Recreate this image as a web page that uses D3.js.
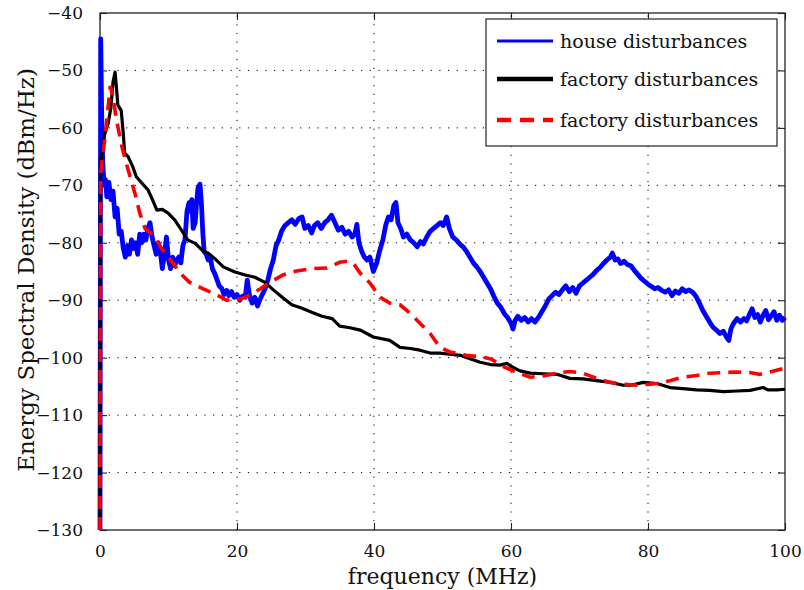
<!DOCTYPE html>
<html>
<head>
  <meta charset="utf-8">
  <title>Energy spectral density</title>
  <script src="https://d3js.org/d3.v7.min.js"></script>
  <style>
    body { margin: 0; background: #fff; }
    svg text { font-family: "DejaVu Serif", serif; fill: #111; }
    .grid line { stroke: #000; stroke-width: 1; stroke-dasharray: 1.2,7.5; }
  </style>
</head>
<body>
<svg id="chart" width="804" height="590"></svg>
<script>
// frequency (MHz), energy spectral density (dBm/Hz)
var house = [
  [0,-130],[0.1,-44.5],[0.25,-58],[0.4,-66],[0.6,-70],[0.8,-69],[1.0,-72],[1.3,-69.5],[1.6,-72.5],[1.9,-71],
  [2.2,-75.5],[2.5,-74],[2.8,-78.5],[3.1,-78],[3.4,-81],[3.7,-82.5],[4.0,-80.5],[4.3,-82],[4.6,-79.5],[4.9,-81],
  [5.2,-80],[5.5,-82],[5.8,-78.5],[6.1,-80],[6.4,-78.5],[6.7,-79.5],[7.0,-77.5],[7.3,-76.5],[7.6,-79],[7.9,-80.5],
  [8.2,-82],[8.5,-80],[8.8,-81.5],[9.1,-84.5],[9.4,-82],[9.7,-79],[10.0,-83],[10.3,-84.5],[10.6,-82.5],[10.9,-84],
  [11.2,-83],[11.5,-82.5],[11.8,-83.5],[12.1,-80.5],[12.4,-79.5],[12.7,-74.5],[13.0,-73],[13.2,-74.5],[13.4,-72.5],[13.6,-77.5],
  [13.9,-76.5],[14.1,-73],[14.3,-70.5],[14.6,-69.8],[14.8,-73],[15.0,-78],[15.2,-81.5],[15.5,-82],[15.8,-83],[16.1,-82.5],
  [16.4,-84.5],[16.8,-85.5],[17.1,-86.5],[17.4,-87.5],[17.8,-88],[18.1,-89],[18.5,-88.3],[18.8,-89.2],[19.2,-88.5],[19.6,-89.5],
  [20.0,-89],[20.4,-90],[20.8,-89.3],[21.2,-89.5],[21.5,-86.5],[21.8,-89],[22.2,-90.5],[22.6,-89.5],[23.0,-91],[23.3,-90],
  [23.7,-89],[24.1,-88],[24.5,-86.5],[24.9,-84.5],[25.3,-83],[25.7,-80.5],[26.1,-79.5],[26.5,-78],[27.0,-77],[27.5,-76.5],
  [28.0,-76],[28.5,-76.8],[29.0,-75.8],[29.5,-75.5],[29.9,-77.5],[30.4,-77],[30.9,-78.3],[31.3,-77],[31.8,-76.5],[32.3,-77.5],
  [32.8,-76.5],[33.3,-76],[33.8,-75.2],[34.3,-76.5],[34.8,-77.8],[35.3,-77.3],[35.8,-78.5],[36.3,-78],[36.8,-79],[37.2,-78.5],
  [37.5,-76.8],[37.8,-80],[38.2,-81.5],[38.6,-82.5],[39.0,-83],[39.4,-82.5],[39.9,-85],[40.4,-83.5],[40.8,-81.5],[41.3,-79.5],
  [41.7,-77],[42.1,-75.5],[42.5,-76],[42.9,-73.5],[43.2,-73],[43.5,-76.5],[43.9,-77.5],[44.3,-79],[44.8,-78.5],[45.3,-79.5],
  [45.8,-80],[46.3,-80.7],[46.8,-79.8],[47.2,-80.2],[47.7,-79],[48.2,-78],[48.7,-77.5],[49.2,-77],[49.7,-76.5],[50.1,-77],
  [50.6,-75.5],[51.0,-77.5],[51.5,-79],[52.0,-79.5],[52.5,-80.2],[53.0,-80.7],[53.5,-81.5],[54.0,-82.5],[54.5,-83.5],[55.0,-84.2],
  [55.5,-85],[56.0,-86],[56.5,-87],[57.0,-88],[57.5,-89.3],[58.0,-90.5],[58.5,-91.2],[59.0,-92.3],[59.5,-93],[60.0,-94],
  [60.3,-95],[60.6,-93.5],[61.0,-92.8],[61.5,-93.5],[62.0,-93],[62.5,-93.8],[63.0,-93.2],[63.5,-93.8],[64.0,-93],[64.5,-92],
  [65.0,-91],[65.5,-89.8],[66.0,-89.2],[66.5,-88.6],[67.0,-89],[67.5,-88.2],[68.0,-87.5],[68.5,-88.5],[69.0,-87.8],[69.5,-88.8],
  [70.0,-87.5],[70.5,-87],[71.0,-86.5],[71.5,-86],[72.0,-85.5],[72.5,-84.8],[73.0,-84.3],[73.5,-83.6],[74.0,-83],[74.5,-82.5],
  [74.8,-81.8],[75.2,-83],[75.6,-82.8],[76.0,-83.6],[76.5,-83.2],[77.0,-83.8],[77.5,-84],[78.0,-84.8],[78.5,-85.5],[79.0,-86.2],
  [79.5,-86.7],[80.0,-87.2],[80.5,-87.6],[81.0,-88],[81.5,-87.8],[82.0,-88.3],[82.5,-88.6],[83.0,-88.2],[83.5,-89.2],[84.0,-88.4],
  [84.5,-88.8],[85.0,-88],[85.5,-88.5],[86.0,-88.2],[86.5,-88.6],[87.0,-89.3],[87.5,-90.5],[88.0,-91.8],[88.5,-92.8],[89.0,-93.8],
  [89.5,-94.7],[90.0,-95.2],[90.5,-95.8],[91.0,-95.4],[91.5,-96.5],[91.8,-97],[92.1,-95],[92.5,-94],[93.0,-93.2],[93.5,-93.8],
  [94.0,-93.2],[94.4,-93.6],[94.8,-92.5],[95.2,-91.5],[95.6,-93],[96.0,-92.5],[96.4,-93.8],[96.8,-92.6],[97.2,-91.8],[97.6,-93.4],
  [98.0,-92.7],[98.4,-92],[98.8,-93.5],[99.2,-92.6],[99.6,-93.5],[100,-93]
];

var factory = [
  [0,-130],[0.05,-66],[0.3,-64.5],[0.7,-61],[1.2,-59.2],[1.6,-56.4],[1.9,-52],[2.2,-50.3],[2.4,-53],[2.6,-56],
  [3.1,-57],[3.4,-61],[3.6,-64.4],[4.1,-65],[4.8,-66.8],[5.3,-68.5],[6.1,-69.6],[7.0,-70.8],[7.7,-72.6],[8.3,-74.3],
  [9.1,-74.2],[9.9,-74.8],[10.9,-76],[11.9,-77.8],[12.8,-79.5],[13.9,-80.1],[14.9,-81.3],[15.8,-81.8],[16.8,-82.8],[18.0,-84.2],
  [19.7,-85.1],[21.2,-85.6],[22.6,-86],[24.1,-86.9],[25.3,-88.2],[26.6,-89.5],[28.0,-90.8],[29.5,-91.4],[30.9,-92.1],[32.4,-92.8],
  [33.9,-93.2],[35.0,-94.5],[36.5,-94.8],[38.0,-95.2],[39.9,-96.4],[42.3,-97],[43.8,-98.2],[45.3,-98.4],[46.7,-98.7],[48.2,-99.2],
  [49.6,-99.2],[51.1,-99.4],[52.6,-99.6],[54.0,-100.2],[55.5,-100.8],[57.0,-101.2],[58.4,-101.3],[59.4,-101],[60.0,-101.5],[61.3,-102.3],
  [62.8,-102.7],[64.7,-102.8],[66.7,-102.9],[68.6,-103.6],[70.5,-103.7],[72.5,-104],[74.5,-104.3],[76.4,-104.8],[77.5,-104.8],[79.3,-104.3],
  [81.3,-104.5],[83.2,-105.2],[85.1,-105.4],[87.1,-105.6],[89.0,-105.7],[91.0,-105.9],[93.0,-105.8],[94.9,-105.7],[96.8,-105.2],[97.5,-105.6],
  [98.8,-105.6],[100,-105.5]
];

var factoryDashed = [
  [0,-130],[0.1,-68],[0.3,-65.6],[0.7,-62],[1.1,-57.4],[1.5,-52.7],[1.9,-54.6],[2.4,-58.6],[3.2,-63.3],[4.1,-67.3],
  [5.1,-71.4],[5.8,-74.8],[6.6,-77.6],[7.3,-78.2],[8.0,-79],[9.1,-81.2],[10.2,-82.8],[11.7,-85.3],[13.1,-86.9],[15.0,-88],
  [17.1,-89.1],[18.5,-90],[20.4,-89.8],[21.9,-89.1],[23.4,-88],[24.8,-86.9],[26.7,-85.6],[28.7,-84.9],[31.1,-84.5],[33.1,-84.4],
  [35.0,-83.4],[36.2,-83.2],[37.0,-83.6],[38.0,-85.3],[39.4,-87],[40.9,-89.5],[42.3,-90.5],[43.8,-90.8],[45.3,-92.3],[46.7,-94],
  [48.2,-95.8],[49.6,-98.2],[51.1,-99],[53.5,-99.6],[56.0,-99.9],[57.2,-100.3],[58.8,-101.5],[60.9,-102.6],[62.8,-103.4],[64.7,-103.2],
  [66.7,-102.7],[68.6,-102.4],[70.5,-102.7],[72.5,-103.6],[74.5,-104.3],[76.4,-104.6],[78.4,-104.8],[80.3,-104.6],[81.3,-104.5],[83.2,-104],
  [85.1,-103.4],[87.1,-103.1],[89.0,-102.7],[91.0,-102.6],[93.0,-102.5],[94.9,-102.6],[96.3,-102.9],[97.8,-102.5],[100,-101.8]
];

var xTicks = [0, 20, 40, 60, 80, 100];
var yTicks = [-130, -120, -110, -100, -90, -80, -70, -60, -50, -40];
var legendLabels = ["house disturbances", "factory disturbances", "factory disturbances"];

var svg = d3.select("#chart");
var plotL = 100, plotR = 785, plotT = 13, plotB = 530;

var x = d3.scaleLinear().domain([0, 100]).range([plotL, plotR]);
var y = d3.scaleLinear().domain([-130, -40]).range([plotB, plotT]);

// dotted grid
var grid = svg.append("g").attr("class", "grid");
grid.selectAll("line.vx").data(xTicks.slice(1, -1)).enter().append("line")
  .attr("x1", d => x(d)).attr("x2", d => x(d)).attr("y1", plotB).attr("y2", plotT);
grid.selectAll("line.hy").data(yTicks.slice(1, -1)).enter().append("line")
  .attr("y1", d => y(d)).attr("y2", d => y(d)).attr("x1", plotL).attr("x2", plotR);

// axes with inner ticks on all four sides
function tidy(g) {
  g.select(".domain").remove();
  g.selectAll(".tick line").attr("stroke", "#222").attr("stroke-width", 1.1);
  g.selectAll(".tick text").style("font-size", "17px").attr("fill", "#111");
}
svg.append("g").attr("transform", `translate(0,${plotB})`)
  .call(d3.axisBottom(x).tickValues(xTicks).tickSizeInner(-7).tickPadding(15).tickFormat(d3.format("d")))
  .call(tidy);
svg.append("g").attr("transform", `translate(0,${plotT})`)
  .call(d3.axisTop(x).tickValues(xTicks).tickSizeInner(-7).tickFormat(""))
  .call(tidy);
svg.append("g").attr("transform", `translate(${plotL},0)`)
  .call(d3.axisLeft(y).tickValues(yTicks).tickSizeInner(-7).tickPadding(17).tickFormat(d => "\u2212" + Math.abs(d)))
  .call(tidy);
svg.append("g").attr("transform", `translate(${plotR},0)`)
  .call(d3.axisRight(y).tickValues(yTicks).tickSizeInner(-7).tickFormat(""))
  .call(tidy);

svg.append("rect")
  .attr("x", plotL).attr("y", plotT).attr("width", plotR - plotL).attr("height", plotB - plotT)
  .attr("fill", "none").attr("stroke", "#222").attr("stroke-width", 1.3);

var line = d3.line().x(d => x(d[0])).y(d => y(d[1]));

svg.append("path").datum(house).attr("d", line)
  .attr("fill", "none").attr("stroke", "#0000ff").attr("stroke-width", 4.8).attr("stroke-linejoin", "round");
svg.append("path").datum(factory).attr("d", line)
  .attr("fill", "none").attr("stroke", "#000").attr("stroke-width", 3.2).attr("stroke-linejoin", "round");
svg.append("path").datum(factoryDashed).attr("d", line)
  .attr("fill", "none").attr("stroke", "#ff0000").attr("stroke-width", 3.6).attr("stroke-dasharray", "13,8");

// axis titles
svg.append("text").attr("x", (plotL + plotR) / 2).attr("y", 584).attr("text-anchor", "middle")
  .style("font-size", "22px").text("frequency (MHz)");
svg.append("text").attr("transform", "translate(34,270) rotate(-90)").attr("text-anchor", "middle")
  .style("font-size", "23px").text("Energy Spectral Density (dBm/Hz)");

// legend
var legend = svg.append("g").attr("transform", "translate(486,19)");
legend.append("rect").attr("width", 291).attr("height", 127)
  .attr("fill", "#fff").attr("stroke", "#333").attr("stroke-width", 1.3);
var styles = [
  {color: "#0000ff", width: 3, dash: null},
  {color: "#000", width: 4.5, dash: null},
  {color: "#ff0000", width: 4.5, dash: "14,9"}
];
var rowY = [22, 60, 101];
legendLabels.forEach(function (label, i) {
  legend.append("line").attr("x1", 11).attr("x2", 67).attr("y1", rowY[i]).attr("y2", rowY[i])
    .attr("stroke", styles[i].color).attr("stroke-width", styles[i].width)
    .attr("stroke-dasharray", styles[i].dash);
  legend.append("text").attr("x", 74).attr("y", rowY[i] + 7).style("font-size", "19px").text(label);
});
</script>
</body>
</html>
